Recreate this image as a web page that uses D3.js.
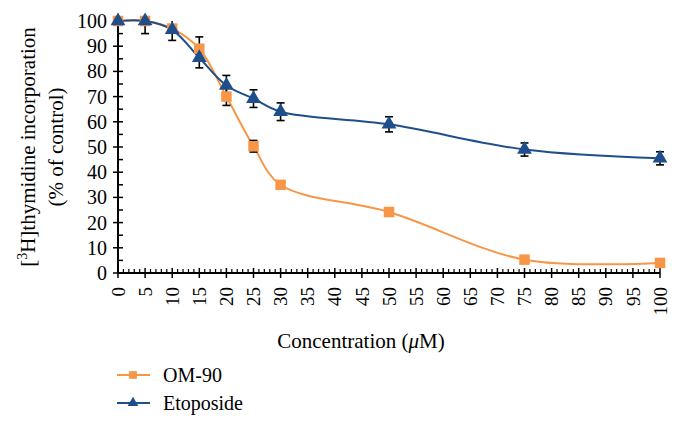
<!DOCTYPE html>
<html><head><meta charset="utf-8">
<script src="https://cdn.jsdelivr.net/npm/d3@7"></script>
<style>body{margin:0;background:#fff}</style>
</head><body><svg id="c" width="679" height="426" style="font-family:'Liberation Serif'"></svg>
<script>
const concentrations = [0, 5, 10, 15, 20, 25, 30, 50, 75, 100];
const om90 = [100, 100, 97, 89, 70, 50.3, 35, 24.2, 5.3, 4];
const om90Err = [0, 0, 0, 4.7, 3.5, 2.3, 0, 0, 0, 0];
const etoposide = [100, 100, 96.5, 85.4, 74.4, 69.2, 64, 59, 49, 45.5];
const etoposideErr = [0, 5, 4.2, 4, 4, 3.5, 3.5, 3, 2.6, 2.6];
const xTicks = d3.range(0, 101, 5);
const yTicks = d3.range(0, 101, 10);
const seriesNames = ["OM-90", "Etoposide"];

const svg = d3.select("#c");
const x = d3.scaleLinear().domain([0, 100]).range([118, 660]);
const y = d3.scaleLinear().domain([0, 100]).range([273, 21]);
const orange = "#F79646", blue = "#1F4E8C";
const FF = "'Liberation Serif', 'Times New Roman', serif";

const g = svg.append("g");
g.append("line").attr("x1", x(0)).attr("x2", x(100)).attr("y1", y(0)).attr("y2", y(0)).attr("stroke", "#000").attr("stroke-width", 2);
g.append("line").attr("x1", x(0)).attr("x2", x(0)).attr("y1", y(0)).attr("y2", y(100)).attr("stroke", "#000").attr("stroke-width", 2);
g.selectAll(".ym").data(yTicks).join("line").attr("x1", x(0) - 5).attr("x2", x(0) + 5)
  .attr("y1", d => y(d)).attr("y2", d => y(d)).attr("stroke", "#000").attr("stroke-width", 1.5);
g.selectAll(".yn").data(d3.range(5, 100, 10)).join("line").attr("x1", x(0)).attr("x2", x(0) + 5)
  .attr("y1", d => y(d)).attr("y2", d => y(d)).attr("stroke", "#000").attr("stroke-width", 1.5);
g.selectAll(".yl").data(yTicks).join("text").attr("x", 107).attr("y", d => y(d)).attr("dy", "0.35em")
  .attr("text-anchor", "end").attr("font-size", 20).style("font-family", FF).text(d => d);
g.selectAll(".xm").data(xTicks).join("line").attr("x1", d => x(d)).attr("x2", d => x(d))
  .attr("y1", y(0) - 5).attr("y2", y(0) + 5).attr("stroke", "#000").attr("stroke-width", 1.5);
g.selectAll(".xn").data(d3.range(0, 101, 1).filter(d => d % 5 !== 0)).join("line").attr("x1", d => x(d)).attr("x2", d => x(d))
  .attr("y1", y(0) - 4).attr("y2", y(0)).attr("stroke", "#000").attr("stroke-width", 1.2);
g.selectAll(".xl").data(xTicks).join("text")
  .attr("transform", d => `translate(${x(d)},${287}) rotate(-90)`).attr("dy", "0.35em")
  .attr("text-anchor", "end").attr("font-size", 19).style("font-family", FF).text(d => d);

svg.append("text").attr("x", 361).attr("y", 348).attr("text-anchor", "middle").attr("font-size", 21).style("font-family", FF)
  .html('Concentration (<tspan font-style="italic">μ</tspan>M)');
const yt = svg.append("text").attr("transform", "translate(35,147) rotate(-90)").attr("text-anchor", "middle").attr("font-size", 21).style("font-family", FF);
yt.append("tspan").text("[");
yt.append("tspan").attr("font-size", 14).attr("dy", -8).text("3");
yt.append("tspan").attr("dy", 8).text("H]thymidine incorporation");
svg.append("text").attr("transform", "translate(63,147) rotate(-90)").attr("text-anchor", "middle").attr("font-size", 21).style("font-family", FF).text("(% of control)");

const line = d3.line().x(d => x(d[0])).y(d => y(d[1])).curve(d3.curveCatmullRom.alpha(0.5));
const data = [
  {name: seriesNames[0], vals: om90, err: om90Err, color: orange, shape: d3.symbolSquare},
  {name: seriesNames[1], vals: etoposide, err: etoposideErr, color: blue, shape: d3.symbolTriangle}
];
const ptsOf = s => concentrations.map((c, i) => [c, s.vals[i], s.err[i]]);
data.forEach(s => {
  svg.append("path").attr("d", line(ptsOf(s))).attr("fill", "none").attr("stroke", s.color).attr("stroke-width", 2);
});
data.forEach(s => {
  const pts = ptsOf(s).filter(d => d[2] > 0);
  const eg = svg.append("g").attr("stroke", "#000").attr("stroke-width", 1.6);
  eg.selectAll(".v").data(pts).join("line").attr("x1", d => x(d[0])).attr("x2", d => x(d[0]))
    .attr("y1", d => y(Math.min(100, d[1] + d[2]))).attr("y2", d => y(d[1] - d[2]));
  eg.selectAll(".t").data(pts.filter(d => d[1] + d[2] <= 100.5)).join("line").attr("x1", d => x(d[0]) - 4).attr("x2", d => x(d[0]) + 4)
    .attr("y1", d => y(d[1] + d[2])).attr("y2", d => y(d[1] + d[2]));
  eg.selectAll(".b").data(pts).join("line").attr("x1", d => x(d[0]) - 4).attr("x2", d => x(d[0]) + 4)
    .attr("y1", d => y(d[1] - d[2])).attr("y2", d => y(d[1] - d[2]));
});
data.forEach(s => {
  svg.append("g").selectAll("path").data(ptsOf(s)).join("path")
    .attr("transform", d => `translate(${x(d[0])},${y(d[1])})`)
    .attr("d", d3.symbol().type(s.shape).size(s.shape === d3.symbolSquare ? 110 : 95)).attr("fill", s.color);
});

data.forEach((s, i) => {
  const ly = 375 + i * 28;
  svg.append("line").attr("x1", 117).attr("x2", 150).attr("y1", ly).attr("y2", ly).attr("stroke", s.color).attr("stroke-width", 2);
  svg.append("path").attr("transform", `translate(133,${ly})`).attr("d", d3.symbol().type(s.shape).size(s.shape === d3.symbolSquare ? 60 : 50)).attr("fill", s.color);
  svg.append("text").attr("x", 163).attr("y", ly).attr("dy", "0.35em").attr("font-size", 20).style("font-family", FF).text(s.name);
});
</script></body></html>
